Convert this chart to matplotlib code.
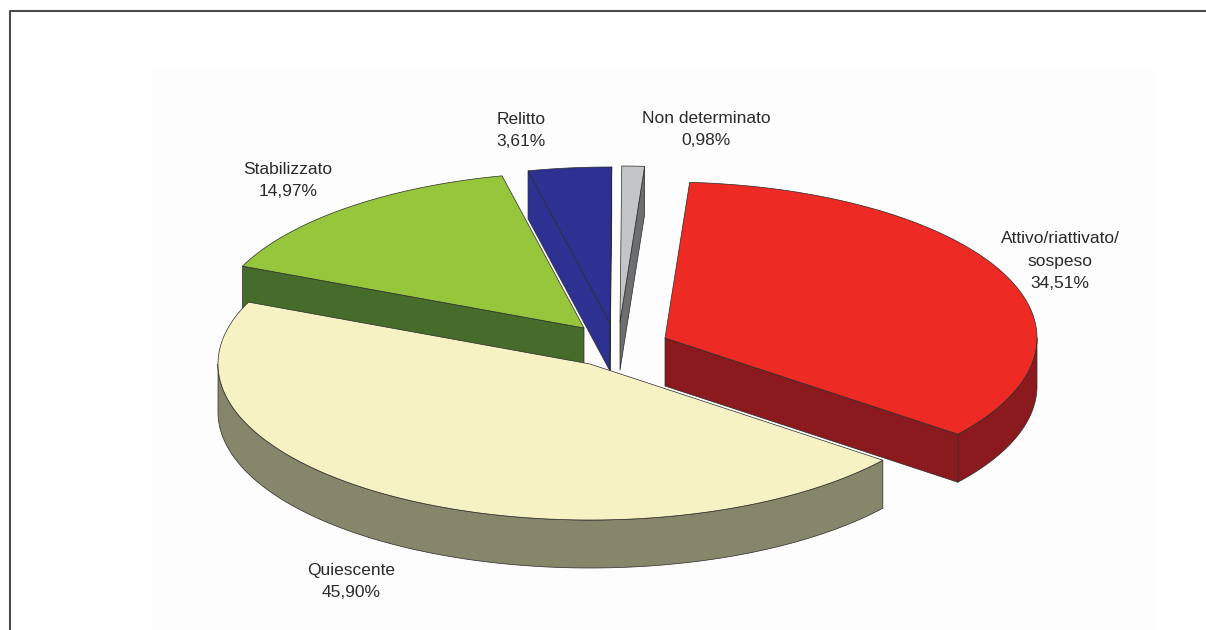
import numpy as np
import matplotlib
matplotlib.use("Agg")
import matplotlib.pyplot as plt
from matplotlib.patches import Polygon, Rectangle

plt.rcParams['font.family'] = ['Liberation Sans', 'DejaVu Sans']

# Data
labels = ["Attivo/riattivato/\nsospeso", "Quiescente", "Stabilizzato", "Relitto", "Non determinato"]
values = [34.51, 45.90, 14.97, 3.61, 0.98]
value_labels = ["34,51%", "45,90%", "14,97%", "3,61%", "0,98%"]

# Layout / style
top_colors = ["#ee2a24", "#f7f2c4", "#95c63c", "#2e3192", "#c4c5c6"]
side_colors = ["#8a1a1e", "#85866a", "#456c2a", "#2e3192", "#6d6e70"]
explode_x = [50, -25, -31, -5, 5]
explode_y = [-7, 19, -17, -22, -23]
label_x = [1060, 351, 288, 521, 706]
label_y = [288, 597, 196, 146, 145]
draw_order = [4, 3, 2, 1, 0]
CX, CY, RX, RY, DEPTH = 615, 345, 372, 156, 48
START = 3.8


def rim(cx, cy, a0, a1, dz=0):
    t = np.radians(np.linspace(a0, a1, max(int(abs(a1 - a0) * 2), 2)))
    return np.column_stack([cx + RX * np.sin(t), cy - RY * np.cos(t) + dz])


fig = plt.figure(figsize=(12.06, 6.30), dpi=100)
ax = fig.add_axes([0, 0, 1, 1])
ax.set_xlim(0, 1206)
ax.set_ylim(630, 0)
ax.axis('off')

ax.add_patch(Rectangle((152, 70), 1004, 560, fc="#fdfdfd", ec="none", zorder=0))
ax.plot([10, 10, 1206], [630, 11, 11], color="#4a4a4a", lw=1.5, zorder=1)

angles = START + np.concatenate([[0], np.cumsum(values)]) * 360 / sum(values)
edge = dict(ec="#2a2a2a", lw=0.5, joinstyle="round")

for z, i in enumerate(draw_order):
    a0, a1 = angles[i], angles[i + 1]
    cx, cy = CX + explode_x[i], CY + explode_y[i]
    zb = 2 + z * 3
    apex = np.array([[cx, cy]])
    top = rim(cx, cy, a0, a1)
    # cut walls facing the viewer
    for a, show in ((a0, 180 < a0 % 360 < 360), (a1, 0 < a1 % 360 < 180)):
        if show:
            p = rim(cx, cy, a, a)[0]
            wall = [(cx, cy), p, (p[0], p[1] + DEPTH), (cx, cy + DEPTH)]
            ax.add_patch(Polygon(wall, fc=side_colors[i], zorder=zb, **edge))
    # outer rim wall, front half only
    lo, hi = max(a0, 90), min(a1, 270)
    if lo < hi:
        wall = np.vstack([rim(cx, cy, lo, hi), rim(cx, cy, hi, lo, DEPTH)])
        ax.add_patch(Polygon(wall, fc=side_colors[i], zorder=zb + 1, **edge))
    ax.add_patch(Polygon(np.vstack([apex, top]), fc=top_colors[i], zorder=zb + 2, **edge))

for i, name in enumerate(labels):
    ax.text(label_x[i], label_y[i], name + "\n" + value_labels[i], ha="center", va="baseline",
            fontsize=12.5, color="#2a2a2a", linespacing=1.62, zorder=50)

fig.savefig("out.png", dpi=100)
